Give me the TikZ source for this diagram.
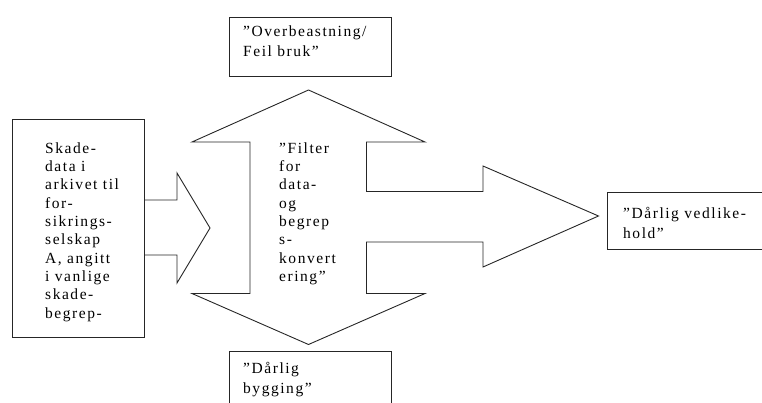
\documentclass[tikz,border=0pt]{standalone}
\usepackage{fontspec}
\setmainfont{Liberation Serif}[LetterSpace=10]
\begin{document}
\begin{tikzpicture}[x=1pt,y=-1pt,
  outline/.style={draw=black!85, line width=0.9pt, line join=miter},
  box/.style={outline, rectangle, inner sep=0pt},
  txt/.style={anchor=base west, align=left, inner sep=0pt,
    font=\fontsize{15.5}{18.3}\selectfont},
  txtwide/.style={txt, font=\fontsize{15.5}{20}\selectfont}]
\useasboundingbox (0,0) rectangle (762,403);

% boxes
\node[box, minimum width=162pt, minimum height=59pt] (overload) at (310,46.5) {};
\node[box, minimum width=132pt, minimum height=218pt] (source) at (78,228) {};
\node[box, minimum width=160pt, minimum height=57pt, anchor=west] (upkeep) at (607,220.5) {};
\node[box, minimum width=162pt, minimum height=70pt, anchor=north] (building) at (310,351) {};

% small arrow from the source box into the filter
\coordinate (s1) at (source.east |- 0,200);
\coordinate (s2) at (source.east |- 0,255);
\draw[outline] (s1) -- (177,200) -- (177,173) -- (210,228) -- (177,283)
  -- (177,255) -- (s2);

% four-way filter shape
\coordinate (tiptop) at (308.5,90);
\coordinate (tipbottom) at (308.5,344.5);
\coordinate (tipright) at (598.5,216);
\draw[outline] (tiptop) -- (425,142) -- (366.5,142) -- (366.5,191.5)
  -- (483,191.5) -- (483,166) -- (tipright) -- (483,267) -- (483,242)
  -- (366.5,242) -- (366.5,293.5) -- (425,293.5) -- (tipbottom)
  -- (192,293.5) -- (250,293.5) -- (250,142) -- (192,142) -- cycle;

% texts (each node is placed by the baseline of its last line)
\node[txtwide] (toptxt) at (243,56.7) {”Overbeastning/\\Feil bruk”};
\node[txt] (srctxt) at (45,318) {Skade-\\data i\\arkivet til\\for-\\sikrings-\\selskap\\A, angitt\\i vanlige\\skade-\\begrep-};
\node[txt] (filtertxt) at (279,281.4) {”Filter\\for\\data-\\og\\begrep\\s-\\konvert\\ering”};
\node[txtwide] (righttxt) at (623,238) {”Dårlig vedlike-\\hold”};
\node[txtwide] (bottxt) at (243,393) {”Dårlig\\bygging”};
\end{tikzpicture}
\end{document}
